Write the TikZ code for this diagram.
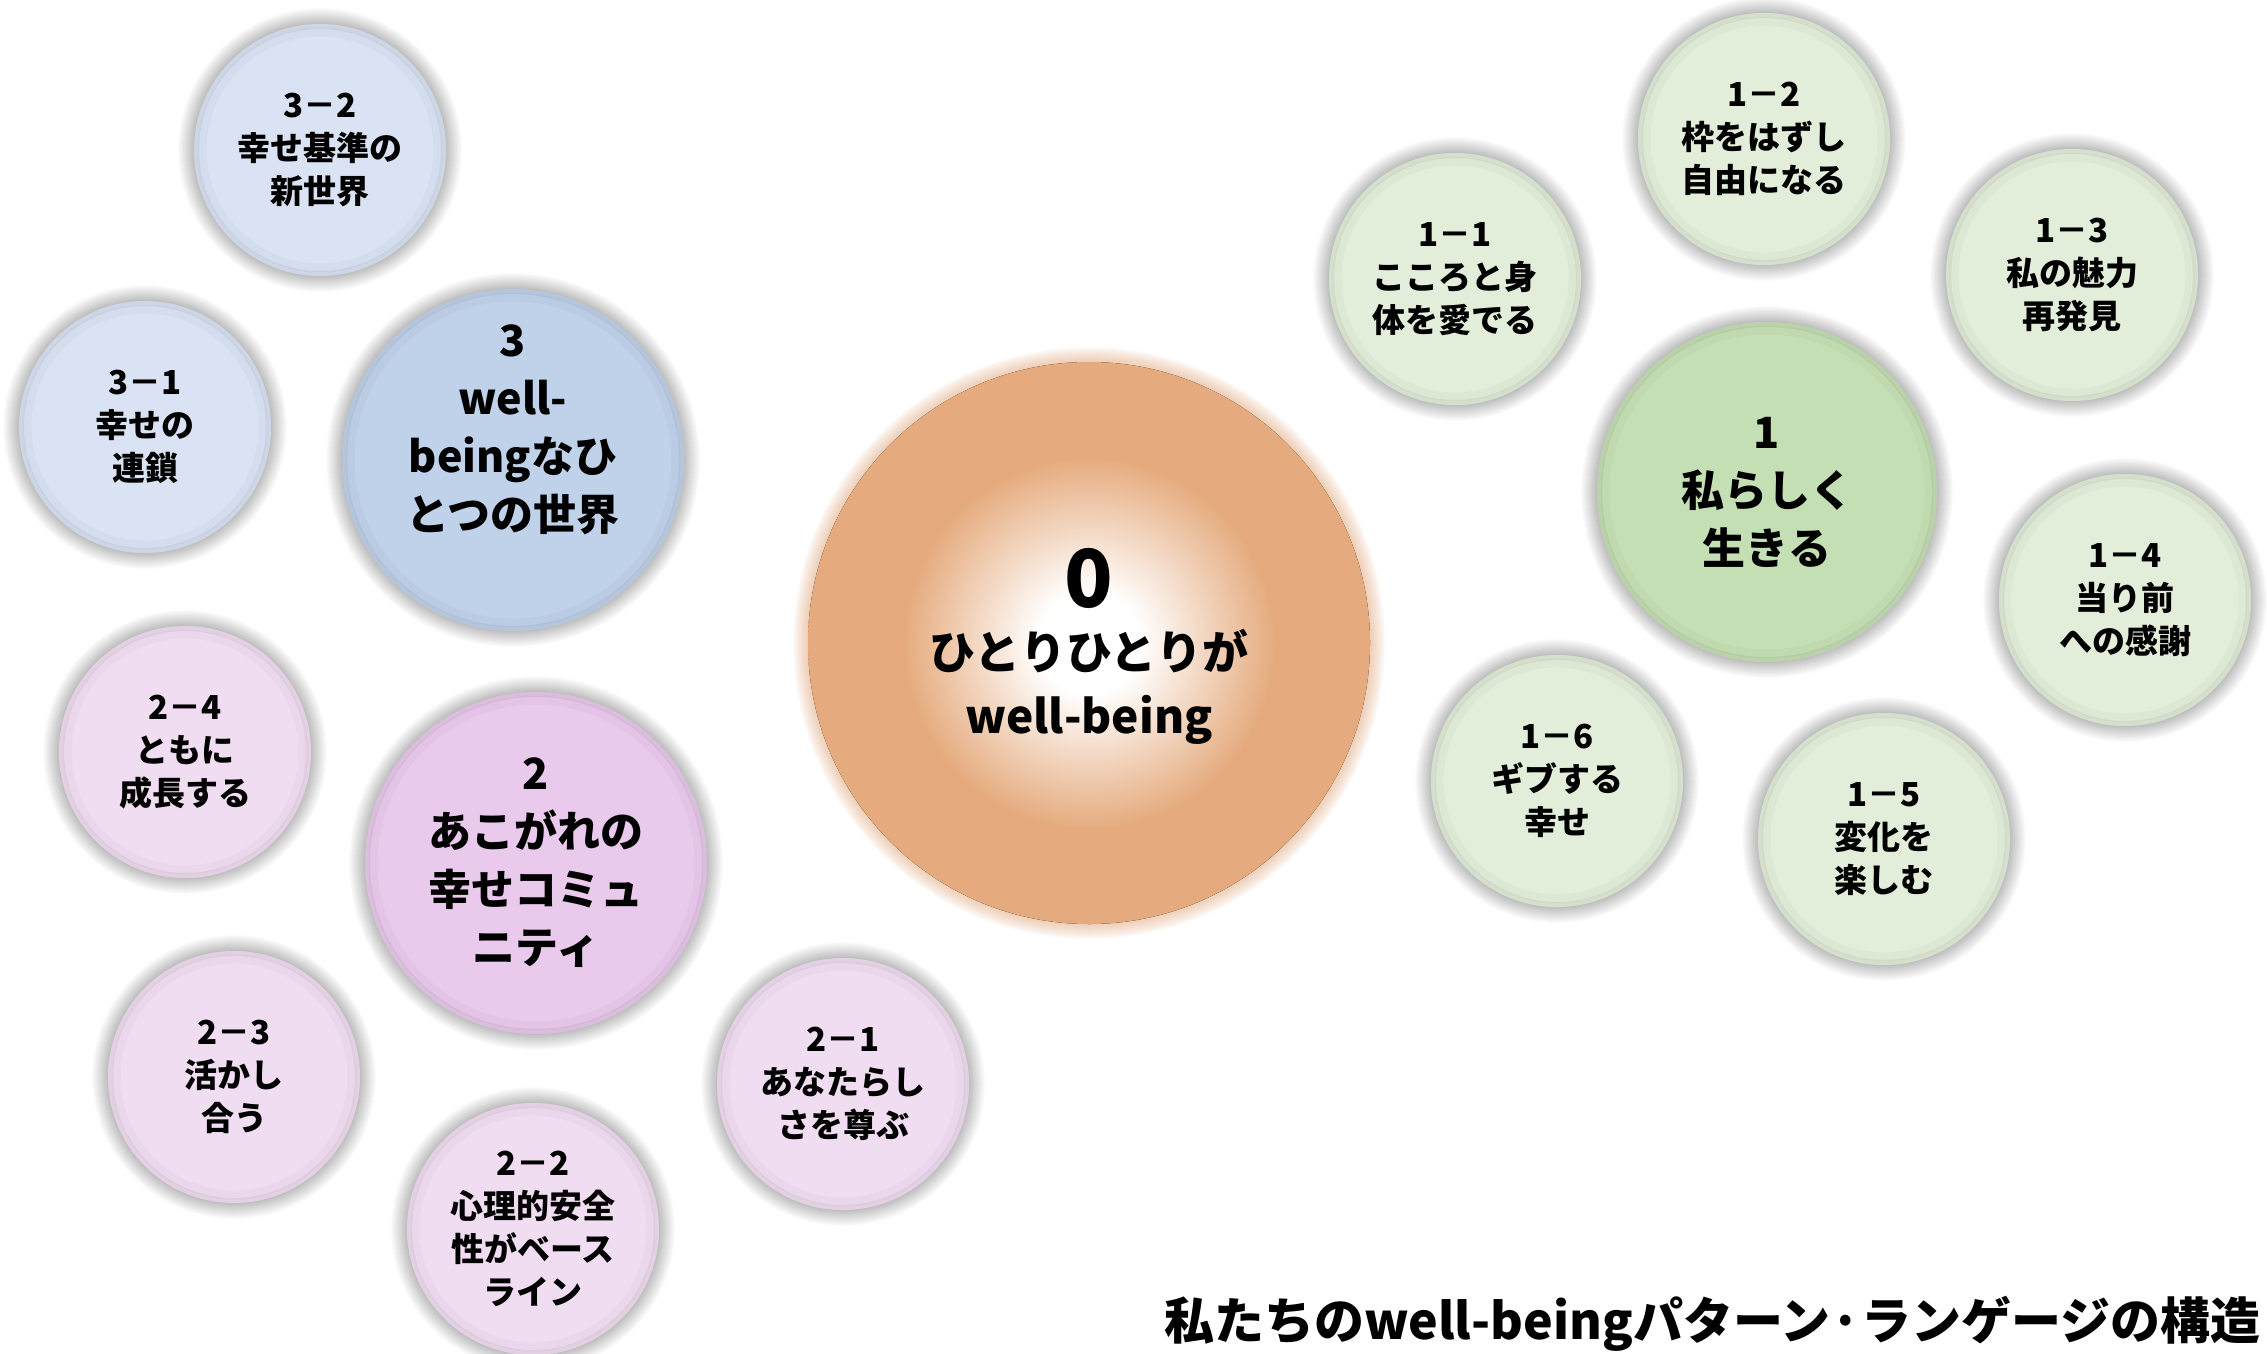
\documentclass[tikz,border=0pt]{standalone}
\usepackage{fontspec}
\setmainfont{Noto Sans CJK JP}
\definecolor{orangeC}{HTML}{E5AB7E}
\definecolor{greenBig}{HTML}{C5DFB4}
\definecolor{greenSm}{HTML}{E2EED9}
\definecolor{blueBig}{HTML}{C0D1EA}
\definecolor{blueSm}{HTML}{DAE3F3}
\definecolor{pinkBig}{HTML}{E9C9EC}
\definecolor{pinkSm}{HTML}{F1DDF1}
\pgfdeclareradialshading{centerglow}{\pgfpointorigin}{color(0bp)=(white); color(4.5bp)=(white); color(16.5bp)=(orangeC); color(50bp)=(orangeC)}
\tikzset{
  smallfont/.style={font=\fontsize{33}{43}\selectfont\bfseries, align=center, text=black},
  bigfont/.style={font=\fontsize{43}{58}\selectfont\bfseries, align=center, text=black},
}
% [#1 text dy]{#2 name}{#3 x}{#4 y}{#5 r}{#6 colour}{#7 style}{#8 text}
\newcommand\bub[8][0]{%
  \foreach \k in {1,...,16}{\fill[black,opacity=0.014] (#3,#4) circle[radius={#5pt+\k pt}];}
  \fill[#6] (#3,#4) circle[radius=#5pt];
  \draw[#6!65!black, opacity=0.16, line width=5pt] (#3,#4) circle[radius={#5pt-2.5pt}];
  \draw[#6!65!black, opacity=0.07, line width=9pt] (#3,#4) circle[radius={#5pt-8pt}];
  \node[#7] (#2) at (#3,{#4+#1}) {#8};
}
\begin{document}
\begin{tikzpicture}[x=1pt,y=-1pt]
\useasboundingbox (0,0) rectangle (2267,1354);
\fill[white] (0,0) rectangle (2267,1354);
\clip (0,0) rectangle (2267,1354);

% centre circle
\foreach \k in {1,...,16}{\fill[orangeC,opacity=0.045] (1089,643) circle[radius={280pt+\k pt}];}
\fill[shading=centerglow] (1089,643) circle[radius=281pt];
\node[circle, minimum size=564pt, inner sep=0pt] (n0) at (1089,643) {};
\node[font=\fontsize{80}{80}\selectfont\bfseries] (n0num) at (1089,578) {0};
\node[font=\fontsize{46}{64}\selectfont\bfseries, align=center] (n0txt) at (1089,687) {ひとりひとりが\\well-being};

% group 1
\bub{n1}{1767}{492}{170}{greenBig}{bigfont}{1\\私らしく\\生きる}
\bub{n11}{1455}{279}{126}{greenSm}{smallfont}{1－1\\こころと身\\体を愛でる}
\bub{n12}{1764}{139}{126}{greenSm}{smallfont}{1－2\\枠をはずし\\自由になる}
\bub{n13}{2072}{275}{126}{greenSm}{smallfont}{1－3\\私の魅力\\再発見}
\bub{n14}{2125}{600}{126}{greenSm}{smallfont}{1－4\\当り前\\への感謝}
\bub{n15}{1884}{839}{126}{greenSm}{smallfont}{1－5\\変化を\\楽しむ}
\bub{n16}{1557}{781}{126}{greenSm}{smallfont}{1－6\\ギブする\\幸せ}

% group 3
\bub[-30]{n3}{513}{460}{171}{blueBig}{bigfont}{3\\well-\\beingなひ\\とつの世界}
\bub{n31}{145}{427}{126}{blueSm}{smallfont}{3－1\\幸せの\\連鎖}
\bub{n32}{320}{150}{126}{blueSm}{smallfont}{3－2\\幸せ基準の\\新世界}

% group 2
\bub{n2}{536}{863}{171}{pinkBig}{bigfont}{2\\あこがれの\\幸せコミュ\\ニティ}
\bub{n24}{185}{752}{126}{pinkSm}{smallfont}{2－4\\ともに\\成長する}
\bub{n23}{234}{1077}{126}{pinkSm}{smallfont}{2－3\\活かし\\合う}
\bub{n22}{533}{1229}{126}{pinkSm}{smallfont}{2－2\\心理的安全\\性がベース\\ライン}
\bub{n21}{843}{1084}{126}{pinkSm}{smallfont}{2－1\\あなたらし\\さを尊ぶ}

% title
\node[anchor=base west, font=\fontsize{50}{60}\selectfont\bfseries, inner sep=0pt] (title) at (1164,1339) {私たちのwell-beingパターン·ランゲージの構造};
\end{tikzpicture}
\end{document}
